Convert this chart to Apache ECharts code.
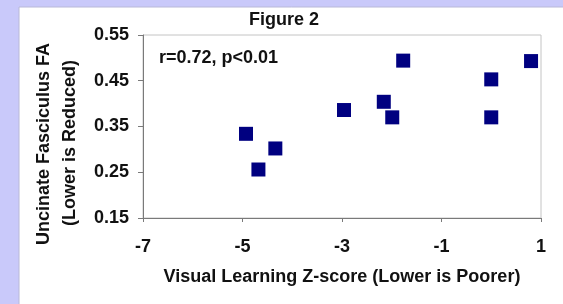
<!DOCTYPE html>
<html><head><meta charset="utf-8">
<script src="https://cdn.jsdelivr.net/npm/echarts@6/dist/echarts.min.js"></script>
<style>html,body{margin:0;padding:0;background:#c9c9fa}#c{width:563px;height:304px}</style>
</head><body><div id="c"></div>
<script>
const xTicks = [-7, -5, -3, -1, 1];
const yTicks = [0.15, 0.25, 0.35, 0.45, 0.55];
const zScores = [-4.93, -4.68, -4.34, -2.96, -2.16, -1.99, -1.77, 0.0, 0.0, 0.8];
const faValues = [0.334, 0.256, 0.302, 0.386, 0.404, 0.370, 0.494, 0.453, 0.370, 0.493];
const titleText = 'Figure 2';
const statText = 'r=0.72, p<0.01';
const xName = 'Visual Learning Z-score (Lower is Poorer)';
const yNameLines = ['Uncinate Fasciculus FA', '(Lower is Reduced)'];

const font = 'Liberation Sans, Arial, sans-serif';
const chart = echarts.init(document.getElementById('c'));
chart.setOption({
  animation: false,
  backgroundColor: '#c9c9fa',
  graphic: [
    {type:'rect', shape:{x:19, y:7, width:560, height:310}, style:{fill:'#ffffff', stroke:'#b8b8d8', lineWidth:1}, z:-10},
    {type:'text', x:284, y:20, style:{text:titleText, font:'bold 18px '+font, fill:'#111', textAlign:'center', textVerticalAlign:'middle'}},
    {type:'text', x:159, y:58, style:{text:statText, font:'bold 18px '+font, fill:'#111', textAlign:'left', textVerticalAlign:'middle'}},
    {type:'text', x:44, y:144, rotation:Math.PI/2, style:{text:yNameLines[0], font:'bold 18px '+font, fill:'#111', textAlign:'center', textVerticalAlign:'middle'}},
    {type:'text', x:70, y:143, rotation:Math.PI/2, style:{text:yNameLines[1], font:'bold 18px '+font, fill:'#111', textAlign:'center', textVerticalAlign:'middle'}}
  ],
  grid: {left:143, right:22, top:35, bottom:86, show:true, borderColor:'#c4c4c4', borderWidth:1, backgroundColor:'transparent'},
  xAxis: {
    type:'value', min:xTicks[0], max:xTicks[xTicks.length-1], interval:2,
    name:xName, nameLocation:'middle', nameGap:50,
    nameTextStyle:{fontFamily:font, fontWeight:'bold', fontSize:18, color:'#111'},
    axisLine:{show:true, onZero:false, lineStyle:{color:'#7a7a7a', width:1}},
    axisTick:{show:true, length:4, lineStyle:{color:'#7a7a7a'}},
    axisLabel:{fontFamily:font, fontWeight:'bold', fontSize:18, color:'#111', margin:20},
    splitLine:{show:false}
  },
  yAxis: {
    type:'value', min:yTicks[0], max:yTicks[yTicks.length-1], interval:0.1,
    axisLine:{show:true, onZero:false, lineStyle:{color:'#7a7a7a', width:1}},
    axisTick:{show:true, length:5, lineStyle:{color:'#7a7a7a'}},
    axisLabel:{fontFamily:font, fontWeight:'bold', fontSize:18, color:'#111', margin:14, formatter:v=>v.toFixed(2)},
    splitLine:{show:false}
  },
  series: [{
    type:'scatter', symbol:'rect', symbolSize:14,
    itemStyle:{color:'#000080', opacity:1},
    data: zScores.map((x,i)=>[x, faValues[i]])
  }]
});
</script></body></html>
